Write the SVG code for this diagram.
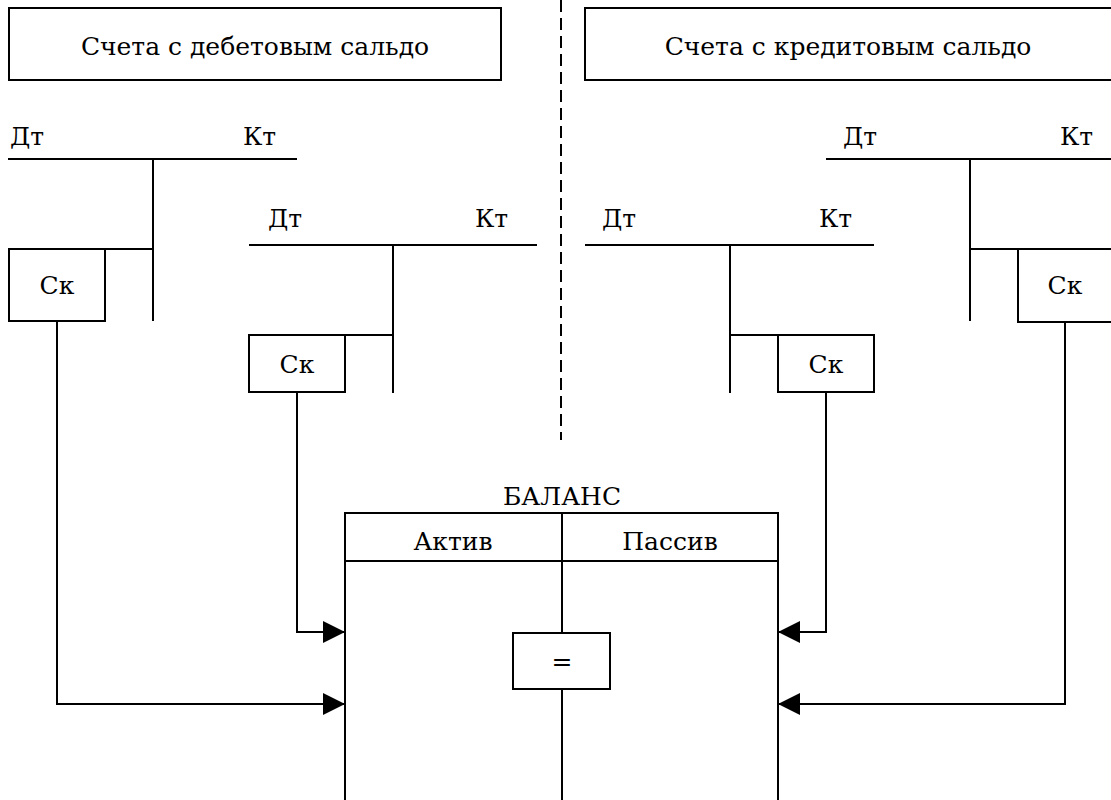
<svg xmlns="http://www.w3.org/2000/svg" width="1111" height="800" viewBox="0 0 1111 800">
<style>
text{font-family:'DejaVu Serif',serif;font-size:25px;fill:#000}
.c{text-anchor:middle}
.ln{stroke:#000;stroke-width:2;fill:none}
.bx{stroke:#000;stroke-width:2;fill:#fff}
</style>
<defs>
<marker id="ar" viewBox="0 0 22 22" markerWidth="22" markerHeight="22" refX="22" refY="11" orient="auto" markerUnits="userSpaceOnUse">
<path d="M0,0 L22,11 L0,22 Z" fill="#000"/>
</marker>
</defs>
<rect width="1111" height="800" fill="#fff"/>
<line x1="561" y1="0" x2="561" y2="440" stroke="#000" stroke-width="2" stroke-dasharray="12,6"/>
<g id="debit-header">
<rect class="bx" x="9" y="8" width="492" height="72"/>
<text class="c" x="255" y="55">Счета с дебетовым сальдо</text>
</g>
<g id="credit-header">
<rect class="bx" x="585" y="8" width="530" height="72"/>
<text class="c" x="848" y="55">Счета с кредитовым сальдо</text>
</g>
<g id="t-left-1">
<text x="10" y="145">Дт</text>
<text x="243" y="145">Кт</text>
<line class="ln" x1="8" y1="159" x2="297" y2="159"/>
<line class="ln" x1="153" y1="159" x2="153" y2="321"/>
<line class="ln" x1="105" y1="249" x2="153" y2="249"/>
<rect class="bx" x="9" y="249" width="96" height="72"/>
<text class="c" x="57" y="294">Ск</text>
</g>
<g id="t-left-2">
<text x="268" y="227">Дт</text>
<text x="475" y="227">Кт</text>
<line class="ln" x1="249" y1="245" x2="537" y2="245"/>
<line class="ln" x1="393" y1="245" x2="393" y2="393"/>
<line class="ln" x1="345" y1="335" x2="393" y2="335"/>
<rect class="bx" x="249" y="335" width="96" height="57"/>
<text class="c" x="297" y="373">Ск</text>
</g>
<g id="t-right-1">
<text x="602" y="227">Дт</text>
<text x="819" y="227">Кт</text>
<line class="ln" x1="585" y1="245" x2="874" y2="245"/>
<line class="ln" x1="730" y1="245" x2="730" y2="393"/>
<line class="ln" x1="730" y1="335" x2="778" y2="335"/>
<rect class="bx" x="778" y="335" width="96" height="57"/>
<text class="c" x="826" y="373">Ск</text>
</g>
<g id="t-right-2">
<text x="843" y="145">Дт</text>
<text x="1060" y="145">Кт</text>
<line class="ln" x1="826" y1="159" x2="1111" y2="159"/>
<line class="ln" x1="970" y1="159" x2="970" y2="321"/>
<line class="ln" x1="970" y1="249" x2="1018" y2="249"/>
<rect class="bx" x="1018" y="249" width="100" height="73"/>
<text class="c" x="1065" y="294">Ск</text>
</g>
<g id="balance">
<text class="c" x="562" y="505">БАЛАНС</text>
<path class="ln" d="M345,802 V513 H778 V802 M345,561 H778 M562,513 V802"/>
<text class="c" x="453" y="550">Актив</text>
<text class="c" x="670" y="550">Пассив</text>
</g>
<g id="equals">
<rect class="bx" x="513" y="633" width="97" height="56"/>
<text class="c" x="562" y="670">=</text>
</g>
<g id="connectors">
<path class="ln" d="M297,392 V632 H345" marker-end="url(#ar)"/>
<path class="ln" d="M57,321 V704 H345" marker-end="url(#ar)"/>
<path class="ln" d="M826,392 V632 H778" marker-end="url(#ar)"/>
<path class="ln" d="M1065,322 V704 H778" marker-end="url(#ar)"/>
</g>
</svg>
